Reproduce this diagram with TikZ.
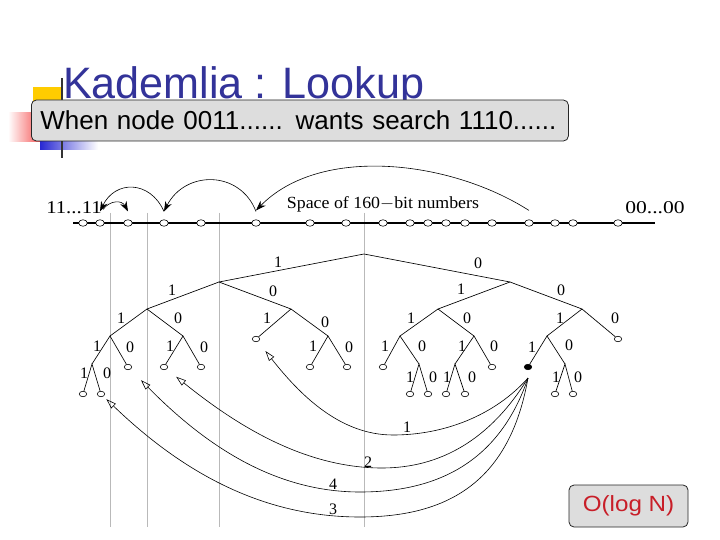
\documentclass[tikz,border=0pt]{standalone}
\usepackage{fontspec}
\setmainfont{Liberation Serif}
\newfontfamily\sansf{Liberation Sans}
\usetikzlibrary{arrows.meta,shapes.geometric}
\definecolor{titleblue}{RGB}{51,51,153}
\definecolor{boxgray}{RGB}{221,221,221}
\definecolor{vgray}{RGB}{185,185,185}
\definecolor{decoyellow}{RGB}{255,204,0}
\definecolor{decored}{RGB}{245,80,80}
\definecolor{decoblue}{RGB}{40,40,210}
\definecolor{textred}{RGB}{200,30,40}
\tikzset{
  tedge/.style={line width=0.65pt},
  leaf/.style={ellipse, draw, line width=0.6pt, fill=white, minimum width=7.5pt, minimum height=5.5pt, inner sep=0pt},
  lpt/.style={leaf, minimum width=8.5pt, minimum height=6.5pt},
  blab/.style={font=\fontsize{16}{16}\selectfont, inner sep=0pt},
  toparc/.style={line width=0.6pt, -{Stealth[length=10pt,width=7pt]}},
  lookarc/.style={line width=0.6pt, -{Triangle[open,length=10pt,width=6.5pt]}},
  vline/.style={vgray, line width=0.8pt},
  graybox/.style={draw=black!85, line width=0.8pt, rounded corners=5pt, fill=boxgray}
}
\begin{document}
\begin{tikzpicture}[x=1pt,y=-1pt]
\useasboundingbox (0,0) rectangle (720,540);
\fill[white] (0,0) rectangle (720,540);
% decorations
\fill[decoyellow] (33,87) rectangle (62,106);
\shade[left color=white, right color=decored] (8,113) rectangle (42,142);
\shade[left color=decoblue, right color=white] (40,131) rectangle (98,150);
\draw[line width=1.5pt, black!80] (62,78) -- (62,158);
% title
\node[anchor=base west, font=\sansf\fontsize{44}{50}\selectfont, text=titleblue, inner sep=0pt] (title) at (63,99) {\scalebox{0.98}[1]{Kademlia : Lookup}};
% box
\node[graybox, anchor=west, text width=519pt, align=left, inner xsep=9pt, minimum height=41pt, font=\sansf\fontsize{26}{30}\selectfont] (box) at (31,120.5) {When node 0011...... wants search 1110......};
% vertical gray lines
\foreach \x in {110,147,219,364} \draw[vline] (\x,213) -- (\x,527);
% number line
\coordinate (lineL) at (73,223);
\coordinate (lineR) at (655,223);
\draw[line width=1.8pt] (lineL) -- (lineR);
\foreach \i/\x in {1/83,2/100,3/128,4/164,5/201,6/256,7/310,8/346,9/383,10/410,11/428,12/446,13/465,14/492,15/529,16/555,17/573,18/618}
  \node[lpt] (c\i) at (\x,223) {};
\node[font=\fontsize{18}{18}\selectfont, inner sep=0pt, anchor=base] (l11) at (74,214) {\scalebox{1.15}[1]{11...11}};
\node[font=\fontsize{18}{18}\selectfont, inner sep=0pt, anchor=base] (l00) at (655,214) {\scalebox{1.2}[1]{00...00}};
\node[font=\fontsize{17}{17}\selectfont, inner sep=0pt, anchor=base] (space) at (383,208) {\scalebox{1.05}[1]{Space of 160$-$bit numbers}};
% top arcs
\draw[toparc] ([yshift=8pt]c6.north) .. controls (240,170) and (185,170) .. ([yshift=8pt]c4.north);
\draw[toparc] ([yshift=8pt]c4.north) .. controls (150,180) and (115,180) .. ([yshift=8pt]c2.north);
\draw[toparc] ([xshift=3pt,yshift=10pt]c2.north) .. controls (110,200) and (122,200) .. ([yshift=8pt]c3.north);
\draw[toparc] ([yshift=9pt]c15.north) .. controls (450,160) and (320,145) .. ([yshift=9pt]c6.north);
% tree internal points
\coordinate (r) at (364,254);
\coordinate (a) at (219,282);   \coordinate (b) at (510,282);
\coordinate (aa) at (147,309);  \coordinate (ab) at (291,309);
\coordinate (ba) at (438,309);  \coordinate (bb) at (582,309);
\coordinate (aaa) at (110,336); \coordinate (aab) at (183,336);
\coordinate (abb) at (328,336); \coordinate (baa) at (400,336);
\coordinate (bab) at (474,336); \coordinate (bba) at (547,336);
\coordinate (aaaa) at (92,364); \coordinate (baab) at (419,364);
\coordinate (baba) at (455,364); \coordinate (bbab) at (565,364);
% leaves
\node[leaf] (L1) at (83,394) {};
\node[leaf] (L2) at (101,394) {};
\node[leaf] (L3) at (128,367) {};
\node[leaf] (L4) at (164,367) {};
\node[leaf] (L5) at (201,367) {};
\node[leaf] (L6) at (256,339) {};
\node[leaf] (L7) at (310,367) {};
\node[leaf] (L8) at (347,367) {};
\node[leaf] (L9) at (383,367) {};
\node[leaf] (L10) at (410,394) {};
\node[leaf] (L11) at (428,394) {};
\node[leaf] (L12) at (446,394) {};
\node[leaf] (L13) at (465,394) {};
\node[leaf] (L14) at (492,367) {};
\node[leaf, fill=black] (L15) at (528,367) {};
\node[leaf] (L16) at (555,394) {};
\node[leaf] (L17) at (573,394) {};
\node[leaf] (L18) at (618,339) {};
% edges
\draw[tedge] (a) -- (r) -- (b);
\draw[tedge] (aa) -- (a) -- (ab);
\draw[tedge] (ba) -- (b) -- (bb);
\draw[tedge] (aaa) -- (aa) -- (aab);
\draw[tedge] (L6) -- (ab) -- (abb);
\draw[tedge] (baa) -- (ba) -- (bab);
\draw[tedge] (bba) -- (bb) -- (L18);
\draw[tedge] (aaaa) -- (aaa) -- (L3);
\draw[tedge] (L4) -- (aab) -- (L5);
\draw[tedge] (L7) -- (abb) -- (L8);
\draw[tedge] (L9) -- (baa) -- (baab);
\draw[tedge] (baba) -- (bab) -- (L14);
\draw[tedge] (L15) -- (bba) -- (bbab);
\draw[tedge] (L1) -- (aaaa) -- (L2);
\draw[tedge] (L10) -- (baab) -- (L11);
\draw[tedge] (L12) -- (baba) -- (L13);
\draw[tedge] (L16) -- (bbab) -- (L17);
% edge labels
\foreach \t/\x/\y in {1/278/262, 0/478/263, 1/172/290, 0/273/291, 1/461/289, 0/561/290,
  1/121/318, 0/178/318, 1/267/318, 0/325/322, 1/411/318, 0/467/318, 1/560/318, 0/615/318,
  1/97/346, 0/130/347, 1/170/346, 0/204/347, 1/313/346, 0/349/347, 1/385/346, 0/422/346,
  1/462/346, 0/494/346, 1/532/347, 0/569/345, 1/84/373, 0/107/373, 1/410/377, 0/433/377,
  1/447/377, 0/472/377, 1/556/377, 0/578/377}
  \node[blab] at (\x,\y) {\t};
% lookup arcs
\coordinate (fan) at ([yshift=-8pt]L15.south);
\draw[lookarc, shorten >=12pt] (fan) .. controls (495,415) and (445,435) .. (393,435) .. controls (340,435) and (300,395) .. (L6);
\draw[lookarc, shorten >=12pt] (fan) .. controls (490,440) and (440,468) .. (382,468) .. controls (300,468) and (230,420) .. (L4);
\draw[lookarc, shorten >=15pt] (fan) .. controls (500,460) and (440,492) .. (360,492) .. controls (270,492) and (200,440) .. (L3);
\draw[lookarc, shorten >=4pt] (fan) .. controls (510,480) and (450,517) .. (360,517) .. controls (260,517) and (180,470) .. (L2);
\node[blab] (n1) at (407,427) {1};
\node[blab] (n2) at (368,462) {2};
\node[blab] (n4) at (333,484) {4};
\node[blab] (n3) at (333,509) {3};
% O(log N)
\node[graybox, minimum width=119pt, minimum height=42pt, text=textred, font=\sansf\fontsize{22}{26}\selectfont] (olog) at (628.5,506) {\scalebox{1.1}[1]{O(log N)}};
\end{tikzpicture}
\end{document}
